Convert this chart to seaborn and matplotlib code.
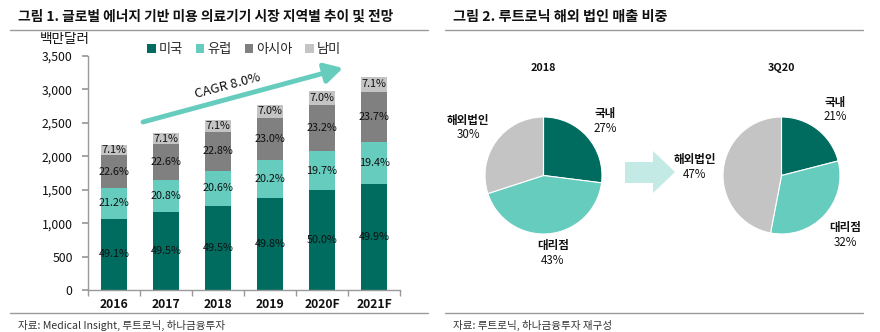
import numpy as np
import pandas as pd
import matplotlib
matplotlib.use("Agg")
import matplotlib.pyplot as plt
import seaborn as sns
from matplotlib.patches import Patch, Polygon
from matplotlib.lines import Line2D

# ---------------- data ----------------
years = ["2016", "2017", "2018", "2019", "2020F", "2021F"]
us = [1065, 1161, 1260, 1379, 1490, 1589]
eu = [460, 488, 524, 560, 587, 618]
asia = [490, 530, 580, 637, 691, 755]
latam = [154, 166, 181, 194, 209, 226]
us_pct = ["49.1%", "49.5%", "49.5%", "49.8%", "50.0%", "49.9%"]
eu_pct = ["21.2%", "20.8%", "20.6%", "20.2%", "19.7%", "19.4%"]
asia_pct = ["22.6%", "22.6%", "22.8%", "23.0%", "23.2%", "23.7%"]
latam_pct = ["7.1%", "7.1%", "7.1%", "7.0%", "7.0%", "7.1%"]
series_names = ["미국", "유럽", "아시아", "남미"]
yticks = [0, 500, 1000, 1500, 2000, 2500, 3000, 3500]

pie_labels = ["국내", "대리점", "해외법인"]
pie_2018 = [27, 43, 30]
pie_3q20 = [21, 32, 47]
pie_titles = ["2018", "3Q20"]

# ---------------- style ----------------
sns.set_theme(style="white")
plt.rcParams["font.family"] = ["Noto Sans CJK KR", "DejaVu Sans"]
plt.rcParams["axes.unicode_minus"] = False

C_US = "#006B5F"
C_EU = "#66CCBE"
C_AS = "#808080"
C_LA = "#C4C4C4"
C_ARROW = "#66CDBE"
C_BLOCK = "#C3EAE4"

W, H = 880, 332
fig = plt.figure(figsize=(W / 100, H / 100), dpi=100)


def fx(x):
    return x / W


def fy(y):
    return 1 - y / H


# titles and separators
fig.text(fx(18), fy(17), "그림 1. 글로벌 에너지 기반 미용 의료기기 시장 지역별 추이 및 전망",
         fontsize=9.9, fontweight="bold", va="center", ha="left", color="#111111")
fig.text(fx(453), fy(17), "그림 2. 루트로닉 해외 법인 매출 비중",
         fontsize=10.2, fontweight="bold", va="center", ha="left", color="#111111")
for x0, x1 in [(10, 428), (445, 863)]:
    for yy in [30, 313]:
        fig.add_artist(Line2D([fx(x0), fx(x1)], [fy(yy), fy(yy)], color="#9a9a9a", lw=1.0))
fig.text(fx(18), fy(325), "자료: Medical Insight, 루트로닉, 하나금융투자",
         fontsize=7.6, va="center", ha="left", color="#333333")
fig.text(fx(453), fy(325), "자료: 루트로닉, 하나금융투자 재구성",
         fontsize=7.6, va="center", ha="left", color="#333333")

# ---------------- stacked bar chart ----------------
ax = fig.add_axes([fx(88), fy(290), fx(400) - fx(88), fy(56) - fy(290)])
df = pd.DataFrame({"year": years, "us": us, "eu": eu, "asia": asia, "latam": latam})
df["c1"] = df["us"]
df["c2"] = df["c1"] + df["eu"]
df["c3"] = df["c2"] + df["asia"]
df["c4"] = df["c3"] + df["latam"]

bw = 0.51
for col, colr in [("c4", C_LA), ("c3", C_AS), ("c2", C_EU), ("c1", C_US)]:
    sns.barplot(data=df, x="year", y=col, color=colr, saturation=1, width=bw,
                linewidth=0, ax=ax, errorbar=None)

for i in range(len(years)):
    bottoms = [0, df["c1"][i], df["c2"][i], df["c3"][i]]
    heights = [us[i], eu[i], asia[i], latam[i]]
    labs = [us_pct[i], eu_pct[i], asia_pct[i], latam_pct[i]]
    for b, h, lab in zip(bottoms, heights, labs):
        ax.text(i, b + h / 2, lab, ha="center", va="center", fontsize=7.8, color="#111111")

ax.set_ylim(0, 3500)
ax.set_xlim(-0.5, len(years) - 0.5)
ax.set_yticks(yticks)
ax.set_yticklabels([f"{v:,}" for v in yticks], fontsize=8.8, color="#111111")
ax.set_xticks(range(len(years)))
ax.set_xticklabels(years, fontsize=8.8, fontweight="bold", color="#111111")
ax.set_xticks(np.arange(-0.5, len(years), 1.0), minor=True)
ax.tick_params(axis="x", which="major", length=0, pad=6)
ax.tick_params(axis="x", which="minor", length=4, color="#999999", direction="out", bottom=True)
ax.tick_params(axis="y", length=4, color="#999999", direction="out", left=True, pad=7)
ax.set_xlabel("")
ax.set_ylabel("")
for s in ["top", "right"]:
    ax.spines[s].set_visible(False)
for s in ["left", "bottom"]:
    ax.spines[s].set_color("#999999")
    ax.spines[s].set_linewidth(1.0)
ax.grid(False)

fig.text(fx(65), fy(39), "백만달러", fontsize=9.8, ha="center", va="center", color="#111111")

handles = [Patch(facecolor=c, edgecolor="none") for c in [C_US, C_EU, C_AS, C_LA]]
fig.legend(handles, series_names, loc="center", bbox_to_anchor=(fx(244), fy(50)), ncol=4,
           frameon=False, fontsize=9.5, handlelength=0.65, handleheight=0.65,
           handletextpad=0.2, columnspacing=1.0)

# CAGR arrow
ax.annotate("", xy=((343 - 88) / 312, (290 - 68) / 234), xytext=((143 - 88) / 312, (290 - 122) / 234),
            xycoords="axes fraction", textcoords="axes fraction",
            arrowprops=dict(arrowstyle="-|>,head_length=0.9,head_width=0.5", color=C_ARROW, lw=3.5,
                            shrinkA=0, shrinkB=0))
fig.text(fx(228), fy(86), "CAGR 8.0%", rotation=15, fontsize=9.5, ha="center", va="center",
         color="#111111", rotation_mode="anchor")

# ---------------- pies ----------------
R = 58.5
for cx, cy, vals, title in [(543.5, 175.5, pie_2018, pie_titles[0]),
                            (781.5, 175.5, pie_3q20, pie_titles[1])]:
    pax = fig.add_axes([fx(cx - R), fy(cy + R), fx(2 * R), 2 * R / H])
    pax.pie(vals, colors=[C_US, C_EU, C_LA], startangle=90, counterclock=False,
            wedgeprops=dict(linewidth=0.8, edgecolor="white"))
    pax.set_xlim(-1, 1)
    pax.set_ylim(-1, 1)
    pax.set_aspect("equal")
    pax.axis("off")
    fig.text(fx(cx), fy(68), title, fontsize=7.8, fontweight="bold", ha="center", va="center",
             color="#111111")

label_pos = {
    ("2018", "국내"): (605, 113),
    ("2018", "대리점"): (553, 246),
    ("2018", "해외법인"): (468, 120),
    ("3Q20", "국내"): (835, 102),
    ("3Q20", "대리점"): (845, 227),
    ("3Q20", "해외법인"): (695, 160),
}
for title, vals in [(pie_titles[0], pie_2018), (pie_titles[1], pie_3q20)]:
    for lab, v in zip(pie_labels, vals):
        x, y = label_pos[(title, lab)]
        fig.text(fx(x), fy(y), lab, fontsize=8.3, fontweight="bold", ha="center", va="center",
                 color="#111111")
        fig.text(fx(x), fy(y + 15), f"{v}%", fontsize=8.3, ha="center", va="center",
                 color="#111111")

# block arrow between pies
pts = [(625, 162), (653, 162), (653, 151), (675, 172), (653, 193), (653, 183), (625, 183)]
fig.add_artist(Polygon([(fx(a), fy(b)) for a, b in pts], closed=True, facecolor=C_BLOCK,
                       edgecolor="none", transform=fig.transFigure))

fig.savefig("out.png", dpi=100)
